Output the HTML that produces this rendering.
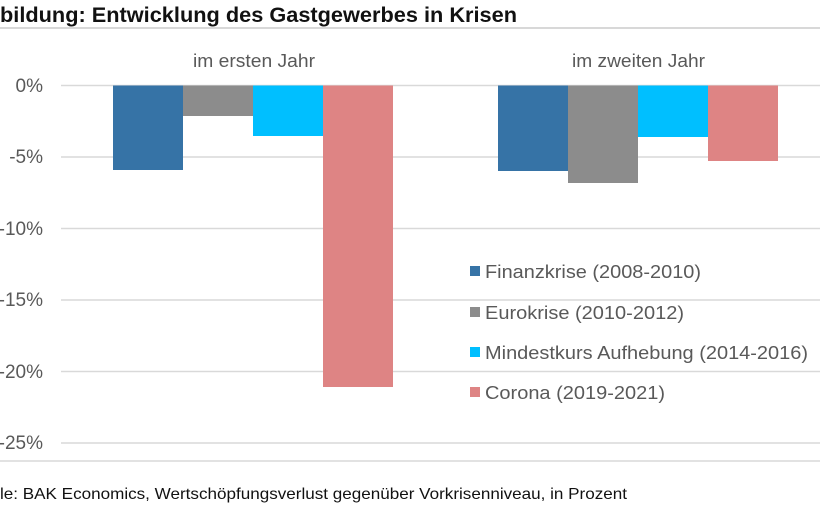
<!DOCTYPE html>
<html><head><meta charset="utf-8"><style>
html,body{margin:0;padding:0;background:#fff;}
svg{display:block;font-family:"Liberation Sans",sans-serif;}
</style></head><body>
<svg width="820" height="513" viewBox="0 0 820 513" xmlns="http://www.w3.org/2000/svg">
<rect width="820" height="513" fill="#fff"/>
<text x="0" y="22" font-size="21" font-weight="bold" fill="#111" textLength="517" lengthAdjust="spacingAndGlyphs">bildung: Entwicklung des Gastgewerbes in Krisen</text>
<rect x="0" y="27" width="820" height="2" fill="#d8d8d8"/>
<g stroke="#d9d9d9" stroke-width="1.5">
<line x1="61" x2="820" y1="85.5" y2="85.5"/>
<line x1="61" x2="820" y1="157" y2="157"/>
<line x1="61" x2="820" y1="228.5" y2="228.5"/>
<line x1="61" x2="820" y1="300" y2="300"/>
<line x1="61" x2="820" y1="371.5" y2="371.5"/>
<line x1="61" x2="820" y1="443" y2="443"/>
<line x1="0" x2="820" y1="461" y2="461"/>
</g>
<g font-size="19" fill="#595959" text-anchor="end">
<text x="43" y="92">0%</text>
<text x="43" y="163">-5%</text>
<text x="43" y="235">-10%</text>
<text x="43" y="306">-15%</text>
<text x="43" y="378">-20%</text>
<text x="43" y="449">-25%</text>
</g>
<g font-size="18" fill="#595959">
<text x="193" y="67" textLength="122" lengthAdjust="spacingAndGlyphs">im ersten Jahr</text>
<text x="572" y="67" textLength="133" lengthAdjust="spacingAndGlyphs">im zweiten Jahr</text>
</g>
<rect x="113" y="85.5" width="70" height="84.5" fill="#3673a6"/>
<rect x="183" y="85.5" width="70" height="30.5" fill="#8c8c8c"/>
<rect x="253" y="85.5" width="70" height="50.5" fill="#00bfff"/>
<rect x="323" y="85.5" width="70" height="301.5" fill="#de8484"/>
<rect x="498" y="85.5" width="70" height="85.5" fill="#3673a6"/>
<rect x="568" y="85.5" width="70" height="97.5" fill="#8c8c8c"/>
<rect x="638" y="85.5" width="70" height="51.5" fill="#00bfff"/>
<rect x="708" y="85.5" width="70" height="75.5" fill="#de8484"/>
<rect x="460" y="250" width="360" height="160" fill="#fff"/>
<line x1="460" x2="820" y1="300" y2="300" stroke="#d9d9d9" stroke-width="1.5"/>
<line x1="460" x2="820" y1="371.5" y2="371.5" stroke="#d9d9d9" stroke-width="1.5"/>
<rect x="470" y="266" width="10" height="10" fill="#3673a6"/>
<rect x="470" y="307" width="10" height="10" fill="#8c8c8c"/>
<rect x="470" y="347" width="10" height="10" fill="#00bfff"/>
<rect x="470" y="387" width="10" height="10" fill="#de8484"/>
<g font-size="18" fill="#595959">
<text x="485" y="278" textLength="216" lengthAdjust="spacingAndGlyphs">Finanzkrise (2008-2010)</text>
<text x="485" y="319" textLength="199" lengthAdjust="spacingAndGlyphs">Eurokrise (2010-2012)</text>
<text x="485" y="359" textLength="323" lengthAdjust="spacingAndGlyphs">Mindestkurs Aufhebung (2014-2016)</text>
<text x="485" y="399" textLength="180" lengthAdjust="spacingAndGlyphs">Corona (2019-2021)</text>
</g>
<text x="0" y="499" font-size="16" fill="#111" textLength="627" lengthAdjust="spacingAndGlyphs">le: BAK Economics, Wertschöpfungsverlust gegenüber Vorkrisenniveau, in Prozent</text>
</svg>
</body></html>
